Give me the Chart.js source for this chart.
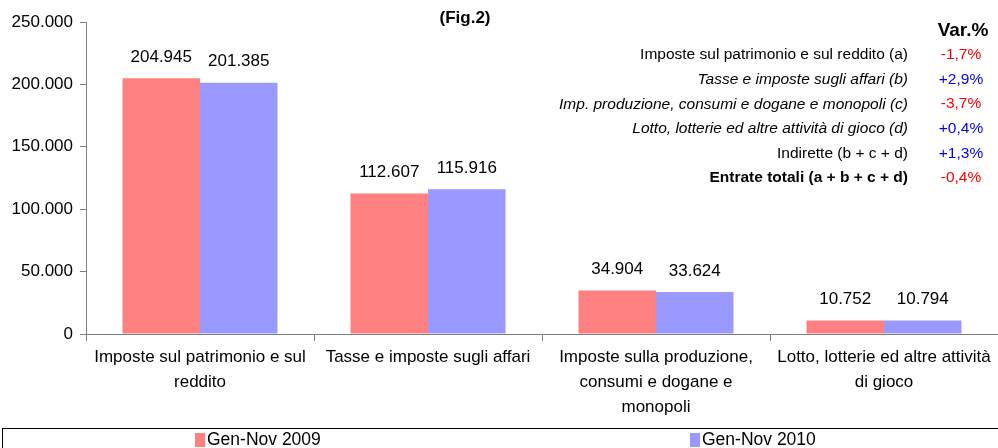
<!DOCTYPE html>
<html>
<head>
<meta charset="utf-8">
<script src="https://cdn.jsdelivr.net/npm/chart.js@4/dist/chart.umd.min.js"></script>
<style>
  html, body { margin: 0; padding: 0; background: #fff; }
  #chart { display: block; }
</style>
</head>
<body>
<canvas id="chart" width="998" height="448"></canvas>
<script>
// --- Data ---
const categories = [
    ["Imposte sul patrimonio e sul", "reddito"],
    ["Tasse e imposte sugli affari"],
    ["Imposte sulla produzione,", "consumi e dogane e", "monopoli"],
    ["Lotto, lotterie ed altre attività", "di gioco"]
];
const seriesNames = ["Gen-Nov 2009", "Gen-Nov 2010"];
const values2009 = [204945, 112607, 34904, 10752];
const values2010 = [201385, 115916, 33624, 10794];
const yTicks = [0, 50000, 100000, 150000, 200000, 250000];

const varLabels = [
    "Imposte sul patrimonio e sul reddito (a)",
    "Tasse e imposte sugli affari (b)",
    "Imp. produzione, consumi e dogane e monopoli (c)",
    "Lotto, lotterie ed altre attività di gioco (d)",
    "Indirette (b + c + d)",
    "Entrate totali (a + b + c + d)"
];
const varValues = [-1.7, 2.9, -3.7, 0.4, 1.3, -0.4];

const FONT = "'Liberation Sans', Arial, sans-serif";
const RED = "#FF8080";
const BLUE = "#9999FF";

function fmt(n) {
    return n.toLocaleString("it-IT");
}
function fmtPct(v) {
    return (v > 0 ? "+" : "") + v.toFixed(1).replace(".", ",") + "%";
}

// --- Extra drawing: value labels, title, variation table, legend ---
const extras = {
    id: "extras",
    afterDatasetsDraw(chart) {
        const ctx = chart.ctx;
        ctx.save();
        ctx.fillStyle = "#000";
        ctx.font = "17px " + FONT;
        ctx.textAlign = "center";
        ctx.textBaseline = "middle";
        chart.data.datasets.forEach((ds, di) => {
            chart.getDatasetMeta(di).data.forEach((bar, i) => {
                ctx.fillText(fmt(ds.data[i]), bar.x, bar.y - 21);
            });
        });

        // title
        ctx.font = "bold 17px " + FONT;
        ctx.fillText("(Fig.2)", 465, 18);

        // variation table
        ctx.font = "bold 19px " + FONT;
        ctx.fillText("Var.%", 963, 31);
        varLabels.forEach((lab, i) => {
            const y = 55 + i * 24.6;
            let style = "";
            if (i >= 1 && i <= 3) style = "italic ";
            if (i === 5) style = "bold ";
            ctx.font = style + "15.5px " + FONT;
            ctx.fillStyle = "#000";
            ctx.textAlign = "right";
            ctx.fillText(lab, 908, y);
            ctx.font = "15.5px " + FONT;
            ctx.fillStyle = varValues[i] < 0 ? "#FF0000" : "#0000FF";
            ctx.textAlign = "center";
            ctx.fillText(fmtPct(varValues[i]), 961, y);
        });

        // legend box
        ctx.strokeStyle = "#000";
        ctx.lineWidth = 1;
        ctx.strokeRect(2.5, 428.5, 1000, 30);
        const legendX = [195, 690];
        ctx.font = "17.5px " + FONT;
        ctx.textAlign = "left";
        chart.data.datasets.forEach((ds, di) => {
            ctx.fillStyle = ds.backgroundColor;
            ctx.fillRect(legendX[di], 433, 10, 14);
            ctx.fillStyle = "#000";
            ctx.fillText(ds.label, legendX[di] + 12, 440);
        });
        ctx.restore();
    }
};

new Chart(document.getElementById("chart"), {
    type: "bar",
    data: {
        labels: categories,
        datasets: [
            { label: seriesNames[0], data: values2009, backgroundColor: RED },
            { label: seriesNames[1], data: values2010, backgroundColor: BLUE }
        ]
    },
    options: {
        responsive: false,
        animation: false,
        layout: { padding: { top: 22, right: 0, bottom: 22, left: 0 } },
        datasets: { bar: { categoryPercentage: 0.68, barPercentage: 1 } },
        plugins: { legend: { display: false }, tooltip: { enabled: false } },
        scales: {
            x: {
                grid: { display: true, drawOnChartArea: false, offset: true, color: "#808080", tickLength: 7 },
                border: { color: "#808080" },
                ticks: { color: "#000", font: { family: FONT, size: 17, lineHeight: 1.46 }, maxRotation: 0, autoSkip: false, padding: 4 },
                afterFit(scale) { scale.height = 92; }
            },
            y: {
                min: 0,
                max: 250000,
                afterBuildTicks(scale) { scale.ticks = yTicks.map(v => ({ value: v })); },
                grid: { display: true, drawOnChartArea: false, color: "#808080", tickLength: 6 },
                border: { color: "#808080" },
                ticks: { color: "#000", font: { family: FONT, size: 17 }, padding: 7, callback: v => fmt(v) },
                afterFit(scale) { scale.width = 86; }
            }
        }
    },
    plugins: [extras]
});
</script>
</body>
</html>
